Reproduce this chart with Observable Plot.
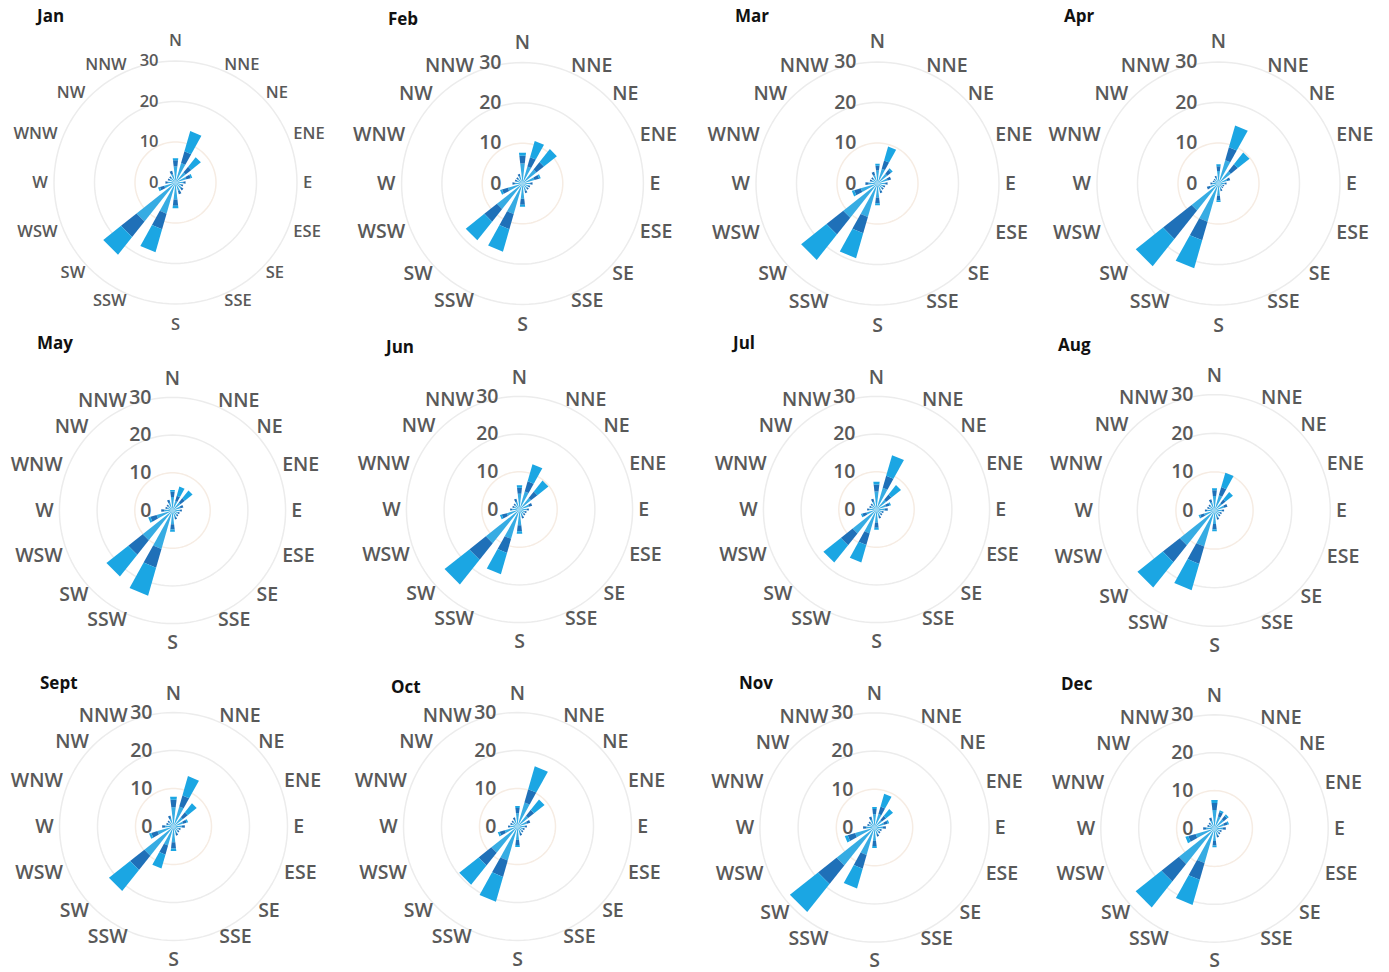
<!DOCTYPE html>
<html><head><meta charset="utf-8">
<script src="https://cdn.jsdelivr.net/npm/d3@7"></script>
<script src="https://cdn.jsdelivr.net/npm/@observablehq/plot@0.6"></script>
<style>
html,body{margin:0;padding:0;background:#fff}
#root{position:relative;width:1389px;height:972px;overflow:hidden;background:#fff}
.panel{position:absolute}
.title{position:absolute;font-family:"Open Sans",sans-serif;font-weight:700;font-size:17px;color:#111;line-height:20px}
</style></head>
<body><div id="root"></div>
<script>
// ---------- data ----------
const months = ["Jan","Feb","Mar","Apr","May","Jun","Jul","Aug","Sept","Oct","Nov","Dec"];
const directions = ["N","NNE","NE","ENE","E","ESE","SE","SSE","S","SSW","SW","WSW","W","WNW","NW","NNW"];
const tickValues = [0, 10, 20, 30];
const speedClasses = ["low", "mid", "high"];
// frequency (%) per direction, one row per month
const lowSpeed = [
  [4.0,5.0,3.2,2.8,1.9,1.5,1.9,2.2,4.2,8.0,12.3,2.9,1.9,1.5,1.5,2.2],
  [5.0,4.4,4.4,3.1,1.9,1.5,1.5,1.9,3.8,7.9,8.1,3.8,1.9,1.5,1.5,1.9],
  [3.2,3.8,3.1,2.6,1.9,1.5,1.5,1.9,3.5,8.6,10.8,4.3,2.2,1.5,1.5,2.2],
  [3.1,6.0,3.9,2.2,1.5,1.1,1.1,1.5,3.0,9.8,8.5,2.2,1.5,1.1,1.1,1.5],
  [3.6,2.6,2.7,2.2,1.9,1.5,1.5,1.9,3.7,10.6,10.1,4.4,2.2,1.5,1.5,2.2],
  [4.2,5.0,3.9,2.6,1.9,1.5,1.5,1.9,4.2,8.1,11.4,3.5,1.9,1.5,1.5,2.2],
  [4.8,6.0,3.3,2.6,2.2,1.5,1.5,1.9,3.5,6.6,8.1,2.8,1.9,1.5,1.5,2.2],
  [3.8,4.1,2.4,2.6,1.9,1.5,1.5,1.9,3.5,9.7,11.5,2.8,1.9,1.5,1.5,2.2],
  [5.1,5.5,3.1,2.6,2.2,1.5,1.5,1.9,4.2,5.2,9.8,4.4,2.2,1.5,1.5,2.2],
  [3.5,6.6,3.6,2.6,1.9,1.5,1.5,1.9,3.5,9.3,8.8,3.5,1.9,1.5,1.5,1.9],
  [3.5,3.7,2.5,2.6,2.2,1.5,1.5,1.9,3.5,7.5,12.7,5.3,2.2,1.5,1.5,2.2],
  [4.9,3.3,3.1,2.6,2.2,1.5,1.5,1.9,3.3,9.5,12.0,5.2,2.2,1.5,1.5,2.2]
];
const midSpeed = [
  [1.5,3.0,1.8,1.1,0.6,0.5,0.6,0.8,1.6,4.0,4.9,1.1,0.6,0.5,0.5,0.8],
  [1.9,2.4,2.4,1.2,0.6,0.5,0.5,0.6,1.5,3.9,4.0,1.5,0.6,0.5,0.5,0.6],
  [1.2,2.1,1.2,0.9,0.6,0.5,0.5,0.6,1.4,4.2,5.3,1.7,0.8,0.5,0.5,0.8],
  [1.2,3.3,2.2,0.8,0.5,0.4,0.4,0.5,1.2,4.8,9.0,0.8,0.5,0.4,0.4,0.5],
  [1.4,1.5,1.5,0.8,0.6,0.5,0.5,0.6,1.4,5.2,4.9,1.7,0.8,0.5,0.5,0.8],
  [1.6,2.8,2.2,0.9,0.6,0.5,0.5,0.6,1.6,3.9,5.6,1.4,0.6,0.5,0.5,0.8],
  [1.9,3.3,1.8,1.0,0.8,0.5,0.5,0.6,1.4,3.2,4.0,1.1,0.6,0.5,0.5,0.8],
  [1.5,2.2,1.3,0.9,0.6,0.5,0.5,0.6,1.4,4.7,5.6,1.1,0.6,0.5,0.5,0.8],
  [2.0,3.0,1.7,1.0,0.8,0.5,0.5,0.6,1.6,2.5,4.8,1.7,0.8,0.5,0.5,0.8],
  [1.4,3.6,2.0,0.9,0.6,0.5,0.5,0.6,1.4,4.5,4.3,1.4,0.6,0.5,0.5,0.6],
  [1.4,2.0,1.4,1.0,0.8,0.5,0.5,0.6,1.4,3.7,6.2,2.0,0.8,0.5,0.5,0.8],
  [1.9,1.2,1.2,1.0,0.8,0.5,0.5,0.6,1.2,4.6,5.9,2.0,0.8,0.5,0.5,0.8]
];
const highSpeed = [
  [0.5,5.2,3.0,0.4,0,0,0,0,0.6,5.9,5.6,0.5,0,0,0,0],
  [0.8,4.2,4.1,0.4,0,0,0,0,0.5,5.8,5.9,0.5,0,0,0,0],
  [0.5,3.6,0.5,0,0,0,0,0,0.5,6.4,8.0,0.6,0,0,0,0],
  [0.5,5.6,3.7,0,0,0,0,0,0.4,7.2,8.6,0,0,0,0,0],
  [0.5,2.5,2.6,0,0,0,0,0,0.6,7.7,7.4,0.6,0,0,0,0],
  [0.7,4.7,3.7,0,0,0,0,0,0.7,5.9,8.4,0.5,0,0,0,0],
  [0.7,5.7,3.2,0.4,0,0,0,0,0.5,4.8,5.9,0.4,0,0,0,0],
  [0.5,3.9,2.4,0,0,0,0,0,0.5,7.1,8.4,0.4,0,0,0,0],
  [0.8,5.3,3.0,0.4,0,0,0,0,0.7,3.8,7.1,0.6,0,0,0,0],
  [0.5,6.3,3.5,0,0,0,0,0,0.5,6.8,6.5,0.5,0,0,0,0],
  [0.5,3.5,2.3,0.4,0,0,0,0,0.5,5.4,9.4,0.8,0,0,0,0],
  [0.8,0.5,0.5,0.4,0,0,0,0,0.5,6.9,8.7,0.8,0,0,0,0]
];

// ---------- layout (not data) ----------
const panelCenter = [[175,182],[522,183],[877,182.5],[1218,183],
                     [172,509.5],[519,509],[876,509],[1214,510],
                     [173,826],[517,826],[874,826.5],[1214,827.5]];
const pxPerUnit = [4.05,4.03,4.05,4.05, 3.77,3.77,3.77,3.86, 3.8,3.8,3.82,3.79];
const titlePos = [[37,6],[388,9],[735,6],[1064,6],[37,333],[386,337],[733,333],[1058,335],[40,673],[391,677],[739,673],[1061,674]];
const classColors = ["#36ace3", "#1f70b8", "#1ba6e3"];

const root = document.getElementById("root");
const rad = a => a * Math.PI / 180;
const polar = (r, a) => ({x: r * Math.sin(rad(a)), y: r * Math.cos(rad(a))});

months.forEach((month, m) => {
  const k = pxPerUnit[m];
  const W = 340, H = 330;
  const small = m === 0;
  const fs = small ? 16.5 : 19.5;
  const halfWidth = 6.5;
  const series = [lowSpeed, midSpeed, highSpeed];
  const wedges = [];
  directions.forEach((dir, i) => {
    const theta = i * 22.5;
    let r0 = 0;
    series.forEach((arr, c) => {
      const v = arr[m][i];
      if (!v) return;
      const r1 = r0 + v;
      const id = dir + "-" + c;
      [[r0, theta - halfWidth], [r1, theta - halfWidth], [r1, theta + halfWidth], [r0, theta + halfWidth]]
        .forEach(([r, a]) => wedges.push({id, cls: speedClasses[c], ...polar(r, a)}));
      r0 = r1;
    });
  });
  const ring = v => d3.range(0, 360, 3).map(a => ({v, ...polar(v, a)}));
  const labels = directions.map((d, i) => {
    const a = i * 22.5;
    const s = Math.sin(rad(a));
    const r = Math.abs(s) < 0.1 ? 35 : 31.5;
    return {d, anchor: s > 0.1 ? "start" : s < -0.1 ? "end" : "middle", ...polar(r, a)};
  });
  const textStyle = {fontFamily: "Open Sans", fontWeight: 600, fill: "#595959", fontSize: fs, lineAnchor: "middle"};
  const plot = Plot.plot({
    width: W, height: H, margin: 0,
    x: {domain: [-W / 2 / k, W / 2 / k], axis: null},
    y: {domain: [-H / 2 / k, H / 2 / k], axis: null},
    color: {domain: speedClasses, range: classColors},
    style: {background: "transparent", overflow: "visible"},
    marks: [
      Plot.line([...ring(20), ...ring(30)], {x: "x", y: "y", z: "v", curve: "linear-closed", stroke: "#ececec", strokeWidth: 1.5}),
      Plot.line(ring(10), {x: "x", y: "y", curve: "linear-closed", stroke: "#f6ece3", strokeWidth: 1.5}),
      Plot.line(wedges, {x: "x", y: "y", z: "id", fill: "cls", stroke: "none", curve: "linear-closed"}),
      Plot.text(tickValues, {x: 0, y: d => d, text: d => String(d), textAnchor: "end", dx: small ? -17 : -21, ...textStyle}),
      ...["start", "middle", "end"].map(an =>
        Plot.text(labels.filter(l => l.anchor === an), {x: "x", y: "y", text: "d", textAnchor: an, ...textStyle}))
    ]
  });
  const div = document.createElement("div");
  div.className = "panel";
  div.style.left = (panelCenter[m][0] - W / 2) + "px";
  div.style.top = (panelCenter[m][1] - H / 2) + "px";
  div.appendChild(plot);
  root.appendChild(div);
  const t = document.createElement("div");
  t.className = "title";
  t.textContent = month;
  t.style.left = titlePos[m][0] + "px";
  t.style.top = titlePos[m][1] + "px";
  root.appendChild(t);
});
</script>
</body></html>
